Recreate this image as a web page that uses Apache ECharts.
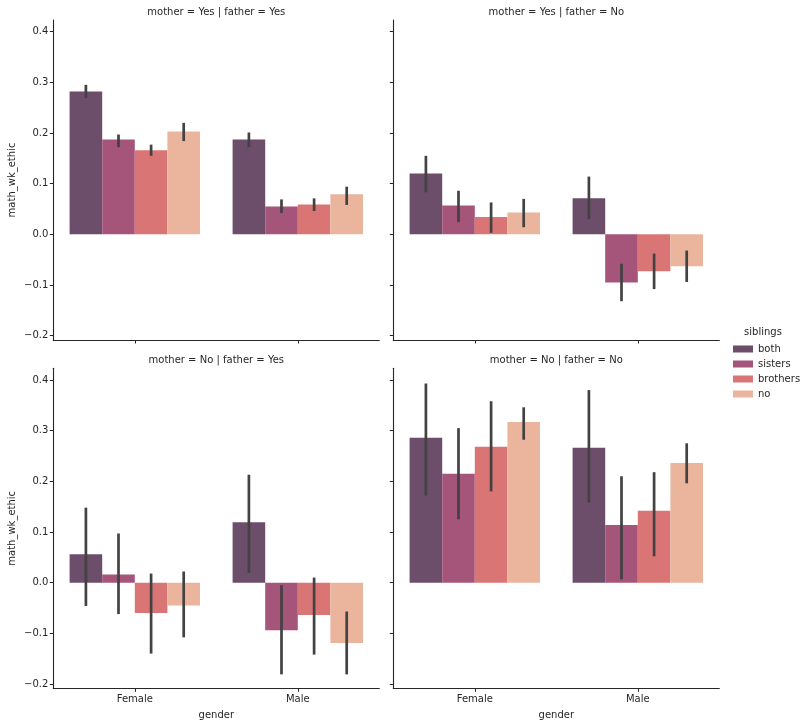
<!DOCTYPE html>
<html>
<head>
<meta charset="utf-8">
<script src="https://cdn.jsdelivr.net/npm/echarts@6/dist/echarts.min.js"></script>
<style>html,body{margin:0;padding:0;background:#fff;}#c{width:807px;height:726px;}</style>
</head>
<body>
<div id="c"></div>
<script>
const categories = ['Female', 'Male'];
const siblings = ['both', 'sisters', 'brothers', 'no'];
const colors = ['#6c4d6a', '#a6557a', '#da7575', '#eab49d'];
const panelTitles = ['mother = Yes | father = Yes', 'mother = Yes | father = No', 'mother = No | father = Yes', 'mother = No | father = No'];
const yTicks = [-0.2, -0.1, 0.0, 0.1, 0.2, 0.3, 0.4];
const yMin = -0.2085, yMax = 0.423;

// [Female, Male] per sibling (both, sisters, brothers, no)
const meanYY = [[0.282, 0.187], [0.187, 0.055], [0.166, 0.059], [0.203, 0.079]];
const loYY   = [[0.269, 0.172], [0.172, 0.042], [0.155, 0.046], [0.184, 0.058]];
const hiYY   = [[0.295, 0.201], [0.197, 0.069], [0.177, 0.071], [0.220, 0.094]];

const meanYN = [[0.120, 0.071], [0.057, -0.095], [0.034, -0.073], [0.043, -0.063]];
const loYN   = [[0.083, 0.030], [0.024, -0.132], [0.003, -0.108], [0.014, -0.094]];
const hiYN   = [[0.155, 0.114], [0.086, -0.058], [0.063, -0.038], [0.070, -0.032]];

const meanNY = [[0.056, 0.119], [0.016, -0.094], [-0.060, -0.064], [-0.045, -0.119]];
const loNY   = [[-0.046, 0.019], [-0.062, -0.181], [-0.140, -0.142], [-0.108, -0.181]];
const hiNY   = [[0.148, 0.213], [0.097, -0.005], [0.018, 0.010], [0.022, -0.057]];

const meanNN = [[0.286, 0.266], [0.215, 0.114], [0.268, 0.142], [0.317, 0.236]];
const loNN   = [[0.172, 0.158], [0.125, 0.0065], [0.180, 0.052], [0.282, 0.196]];
const hiNN   = [[0.393, 0.380], [0.305, 0.210], [0.358, 0.218], [0.346, 0.275]];

const panels = [
  {mean: meanYY, lo: loYY, hi: hiYY},
  {mean: meanYN, lo: loYN, hi: hiYN},
  {mean: meanNY, lo: loNY, hi: hiNY},
  {mean: meanNN, lo: loNN, hi: hiNN}
];

const gridW = 326, gridH = 320;
const grids = [
  {left: 53.3, top: 20},
  {left: 393.3, top: 20},
  {left: 53.3, top: 368.3},
  {left: 393.3, top: 368.3}
];

const FONT = 'DejaVu Sans';
const TXT = '#262626';
const AX = '#262626';

function fmt(v) {
  const s = Math.abs(v).toFixed(1);
  return v < -1e-9 ? '\u2212' + s : s;
}

const option = {
  animation: false,
  backgroundColor: '#fff',
  textStyle: {fontFamily: FONT, color: TXT},
  grid: grids.map(g => ({left: g.left, top: g.top, width: gridW, height: gridH, containLabel: false})),
  xAxis: grids.map((g, i) => ({
    type: 'category', gridIndex: i, data: categories,
    boundaryGap: true,
    axisLine: {onZero: false, lineStyle: {color: AX, width: 1.1}},
    axisTick: {show: true, alignWithLabel: true, length: 3.5, lineStyle: {color: AX, width: 1}},
    axisLabel: {show: i >= 2, color: TXT, fontSize: 10, fontFamily: FONT, margin: 6},
    name: i >= 2 ? 'gender' : '', nameLocation: 'middle', nameGap: 22,
    nameTextStyle: {color: TXT, fontSize: 10, fontFamily: FONT},
    splitLine: {show: false}
  })),
  yAxis: grids.map((g, i) => ({
    type: 'value', gridIndex: i, min: yMin, max: yMax,
    axisLine: {show: true, onZero: false, lineStyle: {color: AX, width: 1.1}},
    axisTick: {show: true, length: 3.5, lineStyle: {color: AX, width: 1}, customValues: yTicks},
    axisLabel: {show: i % 2 === 0, color: TXT, fontSize: 10, fontFamily: FONT, margin: 5,
      customValues: yTicks, formatter: v => fmt(v)},
    splitLine: {show: false},
    name: i % 2 === 0 ? 'math_wk_ethic' : '', nameLocation: 'middle', nameGap: 36,
    nameTextStyle: {color: TXT, fontSize: 10, fontFamily: FONT}
  })),
  legend: {
    orient: 'vertical', left: 728, top: 339,
    data: siblings, icon: 'rect', itemWidth: 20, itemHeight: 7, itemGap: 5,
    textStyle: {color: TXT, fontSize: 10, fontFamily: FONT},
    selectedMode: false
  },
  graphic: [
    ...panelTitles.map((t, i) => ({
      type: 'text', x: grids[i].left + gridW / 2, y: grids[i].top - 8,
      style: {text: t, textAlign: 'center', textVerticalAlign: 'middle', fill: TXT, fontSize: 10, fontFamily: FONT}
    })),
    {type: 'text', x: 763, y: 332, style: {text: 'siblings', textAlign: 'center', textVerticalAlign: 'middle', fill: TXT, fontSize: 10, fontFamily: FONT}}
  ],
  series: []
};

panels.forEach((p, gi) => {
  siblings.forEach((s, si) => {
    option.series.push({
      type: 'bar', name: s, xAxisIndex: gi, yAxisIndex: gi,
      data: p.mean[si], barGap: '0%', barCategoryGap: '20%',
      itemStyle: {color: colors[si]}, z: 2
    });
  });
  const errData = [];
  siblings.forEach((s, si) => {
    categories.forEach((c, ci) => {
      errData.push([ci, p.lo[si][ci], p.hi[si][ci], si]);
    });
  });
  option.series.push({
    type: 'custom', name: 'err' + gi, xAxisIndex: gi, yAxisIndex: gi, z: 5,
    data: errData,
    renderItem: function (params, api) {
      const c = api.value(0);
      const lo = api.coord([c, api.value(1)]);
      const hi = api.coord([c, api.value(2)]);
      const band = api.size([1, 0])[0];
      const off = (api.value(3) - 1.5) * band * 0.8 / 4;
      return {
        type: 'line',
        shape: {x1: lo[0] + off, y1: lo[1], x2: hi[0] + off, y2: hi[1]},
        style: {stroke: '#424242', lineWidth: 2.7}
      };
    }
  });
});

const chart = echarts.init(document.getElementById('c'), null, {renderer: 'canvas'});
chart.setOption(option);
</script>
</body>
</html>
